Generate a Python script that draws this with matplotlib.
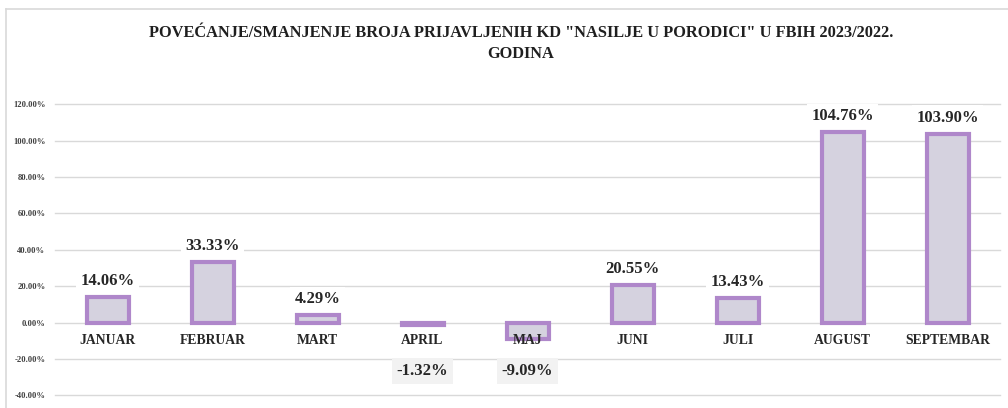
import matplotlib
matplotlib.use("Agg")
import matplotlib.pyplot as plt
from matplotlib.lines import Line2D
from matplotlib.transforms import offset_copy

months = ["JANUAR", "FEBRUAR", "MART", "APRIL", "MAJ", "JUNI", "JULI", "AUGUST", "SEPTEMBAR"]
change_pct = [14.06, 33.33, 4.29, -1.32, -9.09, 20.55, 13.43, 104.76, 103.90]
y_ticks = [-40, -20, 0, 20, 40, 60, 80, 100, 120]
title = 'POVEĆANJE/SMANJENJE BROJA PRIJAVLJENIH KD "NASILJE U PORODICI" U FBIH 2023/2022.\nGODINA'

plt.rcParams['font.family'] = ['Liberation Serif', 'DejaVu Serif']

fig = plt.figure(figsize=(10.08, 4.08), dpi=100)
ax = fig.add_axes([0.0546, 0.0311, 0.9375, 0.7133])

x = list(range(len(months)))
ax.bar(x, change_pct, width=0.4, color='#d5d2df', edgecolor='#af87ca', linewidth=3.0, zorder=3)

ax.set_xlim(-0.5, len(months) - 0.5)
ax.set_ylim(-40, 120)
ax.set_yticks(y_ticks)
ax.set_yticklabels([f"{t:.2f}%" for t in y_ticks], fontsize=6.2, fontweight='bold', color='#404040')
ax.tick_params(axis='y', length=0, pad=7)
ax.set_xticks([])
ax.grid(axis='y', color='#d9d9d9', linewidth=1.0, zorder=0)
for gl in ax.get_ygridlines():
    gl.set_clip_on(False)
for s in ax.spines.values():
    s.set_visible(False)

# category labels sit just under the zero line
for i, m in enumerate(months):
    tr = offset_copy(ax.transData, fig=fig, x=0, y=-13, units='points')
    ax.text(i, 0, m, transform=tr, ha='center', va='center', fontsize=9.8,
            fontweight='bold', color='#262626', zorder=5)

# value labels
for i, v in enumerate(change_pct):
    if v >= 0:
        tr = offset_copy(ax.transData, fig=fig, x=0, y=11.5, units='points')
        ax.text(i, v, f"{v:.2f}%", transform=tr, ha='center', va='center', fontsize=12,
                fontweight='bold', color='#262626', zorder=6,
                bbox=dict(boxstyle='square,pad=0.25', fc='white', ec='none'))
    else:
        tr = offset_copy(ax.transData, fig=fig, x=0, y=-35, units='points')
        ax.text(i, 0, f"{v:.2f}%", transform=tr, ha='center', va='center', fontsize=12,
                fontweight='bold', color='#262626', zorder=6,
                bbox=dict(boxstyle='square,pad=0.3', fc='#f2f2f2', ec='none'))

fig.text(0.517, 0.894, title, ha='center', va='center', fontsize=11.8, fontweight='bold',
         color='#1f1f1f', linespacing=1.45)

# chart frame (top and left edges visible in the crop)
fig.add_artist(Line2D([0.006, 1.0], [0.978, 0.978], color='#d9d9d9', linewidth=1.2))
fig.add_artist(Line2D([0.006, 0.006], [0.0, 0.978], color='#d9d9d9', linewidth=1.2))

fig.savefig("out.png", dpi=100)
